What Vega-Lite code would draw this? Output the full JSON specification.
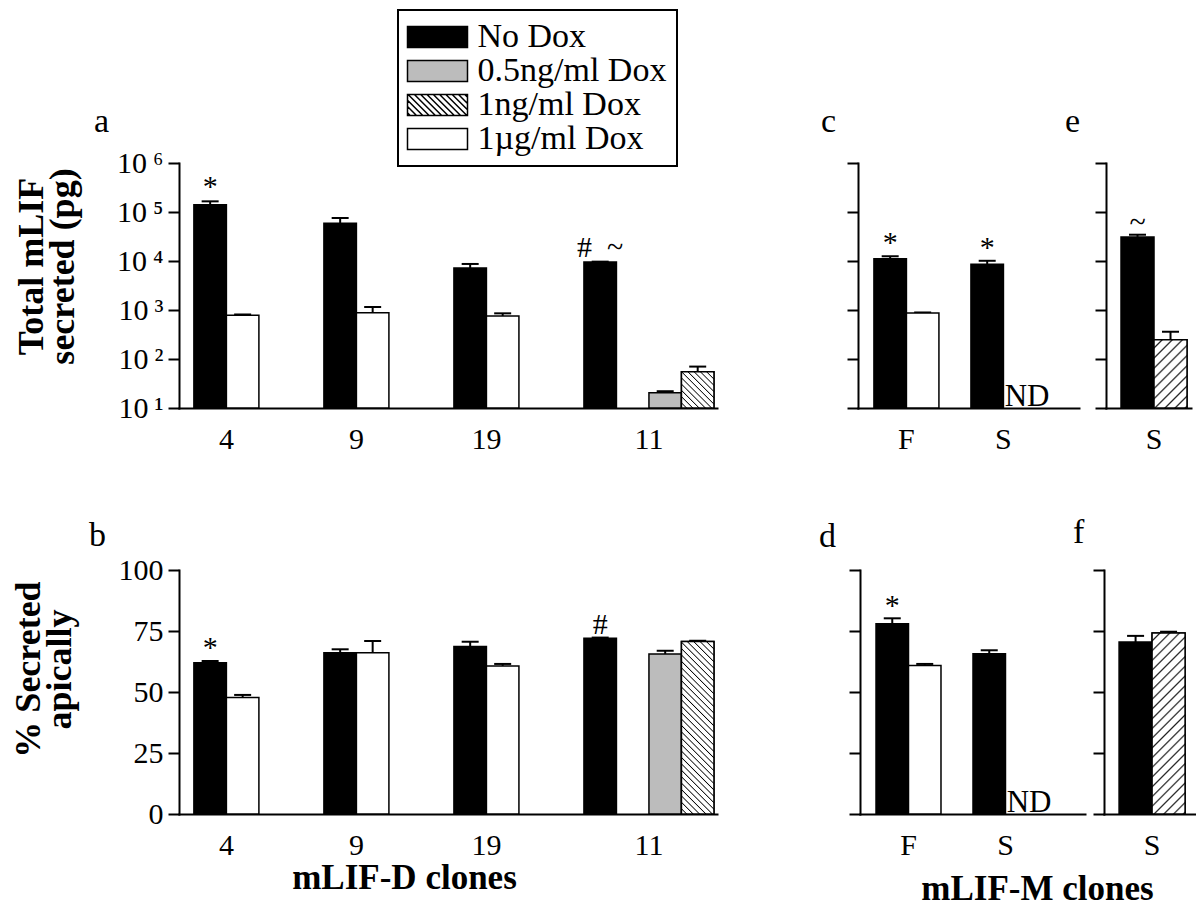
{
 "$schema": "https://vega.github.io/schema/vega-lite/v6.json",
 "padding": {"left": 10, "top": 9, "right": 0, "bottom": 0},
 "background": "white",
 "config": {
  "font": "Liberation Serif",
  "view": {"stroke": null},
  "axis": {"domainColor": "#000", "domainWidth": 2, "domainCap": "square", "tickColor": "#000", "tickWidth": 2, "tickSize": 11, "labelFont": "Liberation Serif", "labelFontSize": 30, "labelColor": "#000", "labelPadding": 5, "titleFont": "Liberation Serif", "titleFontSize": 32, "titleFontWeight": "bold", "titleColor": "#000", "grid": false},
  "axisX": {"ticks": false, "labelAngle": 0, "labelPadding": 16},
  "title": {"font": "Liberation Serif", "fontSize": 34, "fontWeight": "normal", "color": "#000", "anchor": "start", "frame": "group", "baseline": "alphabetic"},
  "legend": {"strokeWidth": 2}
 },
 "resolve": {"scale": {"xOffset": "independent"}},
 "datasets": {
  "a": [
   {"clone": "4", "cond": "No Dox", "mean": 141000, "upper": 165000, "note": "*"},
   {"clone": "4", "cond": "1µg/ml Dox", "mean": 780, "upper": 810},
   {"clone": "9", "cond": "No Dox", "mean": 58700, "upper": 75500},
   {"clone": "9", "cond": "1µg/ml Dox", "mean": 880, "upper": 1150},
   {"clone": "19", "cond": "No Dox", "mean": 7200, "upper": 8700},
   {"clone": "19", "cond": "1µg/ml Dox", "mean": 755, "upper": 855},
   {"clone": "11", "cond": "No Dox", "mean": 9500, "upper": 9700, "note": "# \u00a0~"},
   {"clone": "11", "cond": "0.5ng/ml Dox", "mean": 20.5, "upper": 22},
   {"clone": "11", "cond": "1ng/ml Dox", "mean": 55, "upper": 70}
  ],
  "b": [
   {"clone": "4", "cond": "No Dox", "mean": 62.0, "upper": 62.7, "note": "*"},
   {"clone": "4", "cond": "1µg/ml Dox", "mean": 47.7, "upper": 48.8},
   {"clone": "9", "cond": "No Dox", "mean": 66.1, "upper": 67.5},
   {"clone": "9", "cond": "1µg/ml Dox", "mean": 66.1, "upper": 70.9},
   {"clone": "19", "cond": "No Dox", "mean": 68.6, "upper": 70.6},
   {"clone": "19", "cond": "1µg/ml Dox", "mean": 60.7, "upper": 61.5},
   {"clone": "11", "cond": "No Dox", "mean": 72.0, "upper": 72.3, "note": "#"},
   {"clone": "11", "cond": "0.5ng/ml Dox", "mean": 65.6, "upper": 66.9},
   {"clone": "11", "cond": "1ng/ml Dox", "mean": 70.7, "upper": 71.0}
  ],
  "c": [
   {"clone": "F", "cond": "No Dox", "mean": 11100, "upper": 12500, "note": "*"},
   {"clone": "F", "cond": "1µg/ml Dox", "mean": 870, "upper": 890},
   {"clone": "S", "cond": "No Dox", "mean": 8550, "upper": 10100, "note": "*"},
   {"clone": "S", "cond": "1µg/ml Dox", "nd": "ND", "lod": 10}
  ],
  "d": [
   {"clone": "F", "cond": "No Dox", "mean": 78.0, "upper": 80.2, "note": "*"},
   {"clone": "F", "cond": "1µg/ml Dox", "mean": 60.9, "upper": 61.5},
   {"clone": "S", "cond": "No Dox", "mean": 65.7, "upper": 67.1},
   {"clone": "S", "cond": "1µg/ml Dox", "nd": "ND", "lod": 0}
  ],
  "e": [
   {"clone": "S", "cond": "No Dox", "mean": 31000, "upper": 34400, "note": "~"},
   {"clone": "S", "cond": "1ng/ml Dox", "mean": 248, "upper": 360}
  ],
  "f": [
   {"clone": "S", "cond": "No Dox", "mean": 70.5, "upper": 73.0},
   {"clone": "S", "cond": "1ng/ml Dox", "mean": 74.2, "upper": 74.7}
  ]
 },
 "spacing": 62,
 "vconcat": [
  {
   "spacing": 104,
   "resolve": {"scale": {"xOffset": "independent"}},
   "hconcat": [
    {
     "width": 538, "height": 245,
     "data": {"name": "a"},
     "title": {"text": "a", "dx": -85, "offset": 9},
     "encoding": {
      "x": {"field": "clone", "type": "nominal", "sort": ["4", "9", "19", "11"], "scale": {"paddingInner": 0, "paddingOuter": 0.069, "align": 0.83}, "axis": {"title": null, "labelOffset": {"condition": {"test": "datum.value === '11'", "value": 0}, "value": -32.5}}},
      "xOffset": {"field": "cond", "type": "nominal", "scale": {"domain": ["No Dox", "1µg/ml Dox", "0.5ng/ml Dox", "1ng/ml Dox"], "paddingInner": 0, "paddingOuter": 0}},
      "y": {"field": "mean", "type": "quantitative", "scale": {"type": "log", "domain": [10, 1000000]}, "axis": {"title": ["Total mLIF", "secreted (pg)"], "titleFontSize": 36, "titleLineHeight": 31, "titlePadding": 35, "titleY": 103, "values": [10, 100, 1000, 10000, 100000, 1000000], "labelExpr": "'10\u2009' + ['⁰','¹','²','³','⁴','⁵','⁶'][round(log(datum.value) / LN10)]"}}
     },
     "layer": [
      {"mark": {"type": "rule", "color": "#000", "strokeWidth": 2}, "encoding": {"y2": {"field": "upper"}}},
      {"mark": {"type": "tick", "color": "#000", "thickness": 2, "size": 17, "opacity": 1, "orient": "horizontal"}, "encoding": {"y": {"field": "upper", "type": "quantitative", "scale": {"type": "log", "domain": [10, 1000000]}}}},
      {"mark": {"type": "bar", "stroke": "#000", "strokeWidth": 1.5},
       "encoding": {"y2": {"datum": 10}, "fill": {"field": "cond", "type": "nominal", "scale": {"domain": ["No Dox", "0.5ng/ml Dox", "1ng/ml Dox", "1µg/ml Dox"], "range": ["#000000", "#bcbcbc", "#ffffff", "#ffffff"]},
        "legend": {"orient": "none", "legendX": 219, "legendY": -153, "title": null, "symbolSize": 441, "symbolOffset": 12.5, "labelOffset": 23, "labelFontSize": 34, "labelFont": "Liberation Serif", "labelColor": "#000", "labelLimit": 500, "labelExpr": "datum.label + '\u00a0\u00a0\u00a0'", "symbolStrokeColor": "#000", "symbolStrokeWidth": 1.5, "strokeColor": "#000", "padding": 10, "rowPadding": -3,
         "encode": {"symbols": {"update": {"shape": {"signal": "datum.value === '1ng/ml Dox' ? 'M-2.857,-1H2.857V1H-2.857Z M-2.857,0.743L-2.6,1 M-2.857,0.143L-2,1 M-2.857,-0.457L-1.4,1 M-2.8,-1L-0.8,1 M-2.2,-1L-0.2,1 M-1.6,-1L0.4,1 M-1,-1L1,1 M-0.4,-1L1.6,1 M0.2,-1L2.2,1 M0.8,-1L2.8,1 M1.4,-1L2.857,0.457 M2,-1L2.857,-0.143 M2.6,-1L2.857,-0.743' : 'M-2.857,-1H2.857V1H-2.857Z'"}}}}}}}},
      {"transform": [{"filter": "datum.cond === '1ng/ml Dox'"}],
       "encoding": {"y2": {"datum": 10}},
       "mark": {"type": "bar", "stroke": "#000", "strokeWidth": 1.5, "fill": {"gradient": "linear", "x1": 0, "y1": 1, "x2": 0.942, "y2": -0.052, "stops": [
        {"offset": 0, "color": "#fff"}, {"offset": 0.0591, "color": "#fff"}, {"offset": 0.0745, "color": "#000"},
        {"offset": 0.0909, "color": "#fff"}, {"offset": 0.15, "color": "#fff"}, {"offset": 0.1655, "color": "#000"},
        {"offset": 0.1818, "color": "#fff"}, {"offset": 0.2409, "color": "#fff"}, {"offset": 0.2564, "color": "#000"},
        {"offset": 0.2727, "color": "#fff"}, {"offset": 0.3318, "color": "#fff"}, {"offset": 0.3473, "color": "#000"},
        {"offset": 0.3636, "color": "#fff"}, {"offset": 0.4227, "color": "#fff"}, {"offset": 0.4382, "color": "#000"},
        {"offset": 0.4545, "color": "#fff"}, {"offset": 0.5136, "color": "#fff"}, {"offset": 0.5291, "color": "#000"},
        {"offset": 0.5455, "color": "#fff"}, {"offset": 0.6045, "color": "#fff"}, {"offset": 0.62, "color": "#000"},
        {"offset": 0.6364, "color": "#fff"}, {"offset": 0.6955, "color": "#fff"}, {"offset": 0.7109, "color": "#000"},
        {"offset": 0.7273, "color": "#fff"}, {"offset": 0.7864, "color": "#fff"}, {"offset": 0.8018, "color": "#000"},
        {"offset": 0.8182, "color": "#fff"}, {"offset": 0.8773, "color": "#fff"}, {"offset": 0.8927, "color": "#000"},
        {"offset": 0.9091, "color": "#fff"}, {"offset": 0.9682, "color": "#fff"}, {"offset": 0.9836, "color": "#000"},
        {"offset": 1, "color": "#fff"}]}}},
      {"transform": [{"filter": "datum.note"}], "mark": {"type": "text", "fontSize": 30, "baseline": "alphabetic", "dy": -5, "color": "#000"}, "encoding": {"y": {"field": "upper", "type": "quantitative", "scale": {"type": "log", "domain": [10, 1000000]}}, "text": {"field": "note"}}}
     ]
    },
    {
     "spacing": -14,
     "resolve": {"scale": {"xOffset": "independent"}},
     "hconcat": [
      {
       "width": 221, "height": 245,
       "data": {"name": "c"},
       "title": {"text": "c", "dx": -37, "offset": 23},
       "encoding": {
        "x": {"field": "clone", "type": "nominal", "sort": ["F", "S"], "scale": {"paddingInner": 0.33, "paddingOuter": 0.304, "align": 0.27}, "axis": {"title": null}},
        "xOffset": {"field": "cond", "type": "nominal", "scale": {"domain": ["No Dox", "1µg/ml Dox"], "paddingInner": 0, "paddingOuter": 0}},
        "y": {"field": "mean", "type": "quantitative", "scale": {"type": "log", "domain": [10, 1000000]}, "axis": {"title": null, "labels": false, "values": [10, 100, 1000, 10000, 100000, 1000000]}}
       },
       "layer": [
        {"mark": {"type": "rule", "color": "#000", "strokeWidth": 2}, "encoding": {"y2": {"field": "upper"}}},
        {"mark": {"type": "tick", "color": "#000", "thickness": 2, "size": 17, "opacity": 1, "orient": "horizontal"}, "encoding": {"y": {"field": "upper", "type": "quantitative", "scale": {"type": "log", "domain": [10, 1000000]}}}},
        {"mark": {"type": "bar", "stroke": "#000", "strokeWidth": 1.5}, "encoding": {"y2": {"datum": 10}, "fill": {"field": "cond", "type": "nominal", "scale": {"domain": ["No Dox", "0.5ng/ml Dox", "1ng/ml Dox", "1µg/ml Dox"], "range": ["#000000", "#bcbcbc", "#ffffff", "#ffffff"]}}}},
        {"transform": [{"filter": "datum.note"}], "mark": {"type": "text", "fontSize": 30, "baseline": "alphabetic", "dy": -4, "color": "#000"}, "encoding": {"y": {"field": "upper", "type": "quantitative", "scale": {"type": "log", "domain": [10, 1000000]}}, "text": {"field": "note"}}},
        {"transform": [{"filter": "datum.nd"}], "mark": {"type": "text", "fontSize": 31, "align": "left", "baseline": "alphabetic", "dx": -15, "dy": -2, "color": "#000"}, "encoding": {"y": {"field": "lod", "type": "quantitative", "scale": {"type": "log", "domain": [10, 1000000]}}, "text": {"field": "nd"}}}
       ]
      },
      {
       "width": 85, "height": 245,
       "data": {"name": "e"},
       "title": {"text": "e", "dx": -41, "offset": 23},
       "encoding": {
        "x": {"field": "clone", "type": "nominal", "scale": {"paddingInner": 0, "paddingOuter": 0.144, "align": 0.79}, "axis": {"title": null}},
        "xOffset": {"field": "cond", "type": "nominal", "scale": {"domain": ["No Dox", "1ng/ml Dox"], "paddingInner": 0, "paddingOuter": 0}},
        "y": {"field": "mean", "type": "quantitative", "scale": {"type": "log", "domain": [10, 1000000]}, "axis": {"title": null, "labels": false, "values": [10, 100, 1000, 10000, 100000, 1000000]}}
       },
       "layer": [
        {"mark": {"type": "rule", "color": "#000", "strokeWidth": 2}, "encoding": {"y2": {"field": "upper"}}},
        {"mark": {"type": "tick", "color": "#000", "thickness": 2, "size": 17, "opacity": 1, "orient": "horizontal"}, "encoding": {"y": {"field": "upper", "type": "quantitative", "scale": {"type": "log", "domain": [10, 1000000]}}}},
        {"mark": {"type": "bar", "stroke": "#000", "strokeWidth": 1.5}, "encoding": {"y2": {"datum": 10}, "fill": {"field": "cond", "type": "nominal", "scale": {"domain": ["No Dox", "0.5ng/ml Dox", "1ng/ml Dox", "1µg/ml Dox"], "range": ["#000000", "#bcbcbc", "#ffffff", "#ffffff"]}}}},
        {"transform": [{"filter": "datum.cond === '1ng/ml Dox'"}],
         "encoding": {"y2": {"datum": 10}},
         "mark": {"type": "bar", "stroke": "#000", "strokeWidth": 1.5, "fill": {"gradient": "linear", "x1": 0, "y1": 0, "x2": 0.581, "y2": 1.203, "stops": [
          {"offset": 0, "color": "#fff"}, {"offset": 0.065, "color": "#fff"}, {"offset": 0.082, "color": "#222"},
          {"offset": 0.1, "color": "#fff"}, {"offset": 0.165, "color": "#fff"}, {"offset": 0.182, "color": "#222"},
          {"offset": 0.2, "color": "#fff"}, {"offset": 0.265, "color": "#fff"}, {"offset": 0.282, "color": "#222"},
          {"offset": 0.3, "color": "#fff"}, {"offset": 0.365, "color": "#fff"}, {"offset": 0.382, "color": "#222"},
          {"offset": 0.4, "color": "#fff"}, {"offset": 0.465, "color": "#fff"}, {"offset": 0.482, "color": "#222"},
          {"offset": 0.5, "color": "#fff"}, {"offset": 0.565, "color": "#fff"}, {"offset": 0.582, "color": "#222"},
          {"offset": 0.6, "color": "#fff"}, {"offset": 0.665, "color": "#fff"}, {"offset": 0.682, "color": "#222"},
          {"offset": 0.7, "color": "#fff"}, {"offset": 0.765, "color": "#fff"}, {"offset": 0.782, "color": "#222"},
          {"offset": 0.8, "color": "#fff"}, {"offset": 0.865, "color": "#fff"}, {"offset": 0.882, "color": "#222"},
          {"offset": 0.9, "color": "#fff"}, {"offset": 0.965, "color": "#fff"}, {"offset": 0.982, "color": "#222"},
          {"offset": 1, "color": "#fff"}]}}},
        {"transform": [{"filter": "datum.note"}], "mark": {"type": "text", "fontSize": 30, "baseline": "alphabetic", "dy": -3, "color": "#000"}, "encoding": {"y": {"field": "upper", "type": "quantitative", "scale": {"type": "log", "domain": [10, 1000000]}}, "text": {"field": "note"}}}
       ]
      }
     ]
    }
   ]
  },
  {
   "spacing": 102,
   "resolve": {"scale": {"xOffset": "independent"}},
   "hconcat": [
    {
     "width": 538, "height": 244,
     "data": {"name": "b"},
     "title": {"text": "b", "dx": -90, "offset": 2},
     "encoding": {
      "x": {"field": "clone", "type": "nominal", "sort": ["4", "9", "19", "11"], "scale": {"paddingInner": 0, "paddingOuter": 0.069, "align": 0.83}, "axis": {"title": "mLIF-D clones", "titleFontSize": 35, "titleBaseline": "alphabetic", "titlePadding": 28, "titleX": 225, "labelOffset": {"condition": {"test": "datum.value === '11'", "value": 0}, "value": -32.5}}},
      "xOffset": {"field": "cond", "type": "nominal", "scale": {"domain": ["No Dox", "1µg/ml Dox", "0.5ng/ml Dox", "1ng/ml Dox"], "paddingInner": 0, "paddingOuter": 0}},
      "y": {"field": "mean", "type": "quantitative", "scale": {"domain": [0, 100]}, "axis": {"title": ["% Secreted", "apically"], "titleFontSize": 36, "titleLineHeight": 31, "titlePadding": 40, "titleY": 99, "values": [0, 25, 50, 75, 100]}}
     },
     "layer": [
      {"mark": {"type": "rule", "color": "#000", "strokeWidth": 2}, "encoding": {"y2": {"field": "upper"}}},
      {"mark": {"type": "tick", "color": "#000", "thickness": 2, "size": 17, "opacity": 1, "orient": "horizontal"}, "encoding": {"y": {"field": "upper", "type": "quantitative", "scale": {"domain": [0, 100]}}}},
      {"mark": {"type": "bar", "stroke": "#000", "strokeWidth": 1.5}, "encoding": {"fill": {"field": "cond", "type": "nominal", "scale": {"domain": ["No Dox", "0.5ng/ml Dox", "1ng/ml Dox", "1µg/ml Dox"], "range": ["#000000", "#bcbcbc", "#ffffff", "#ffffff"]}}}},
      {"transform": [{"filter": "datum.cond === '1ng/ml Dox'"}],
       "mark": {"type": "bar", "stroke": "#000", "strokeWidth": 1.5, "fill": {"gradient": "linear", "x1": 0, "y1": 1, "x2": 0.2162, "y2": -0.1477, "stops": [
        {"offset": 0, "color": "#fff"}, {"offset": 0.0203, "color": "#fff"}, {"offset": 0.0256, "color": "#000"},
        {"offset": 0.0313, "color": "#fff"}, {"offset": 0.0516, "color": "#fff"}, {"offset": 0.0569, "color": "#000"},
        {"offset": 0.0625, "color": "#fff"}, {"offset": 0.0828, "color": "#fff"}, {"offset": 0.0881, "color": "#000"},
        {"offset": 0.0938, "color": "#fff"}, {"offset": 0.1141, "color": "#fff"}, {"offset": 0.1194, "color": "#000"},
        {"offset": 0.125, "color": "#fff"}, {"offset": 0.1453, "color": "#fff"}, {"offset": 0.1506, "color": "#000"},
        {"offset": 0.1563, "color": "#fff"}, {"offset": 0.1766, "color": "#fff"}, {"offset": 0.1819, "color": "#000"},
        {"offset": 0.1875, "color": "#fff"}, {"offset": 0.2078, "color": "#fff"}, {"offset": 0.2131, "color": "#000"},
        {"offset": 0.2188, "color": "#fff"}, {"offset": 0.2391, "color": "#fff"}, {"offset": 0.2444, "color": "#000"},
        {"offset": 0.25, "color": "#fff"}, {"offset": 0.2703, "color": "#fff"}, {"offset": 0.2756, "color": "#000"},
        {"offset": 0.2813, "color": "#fff"}, {"offset": 0.3016, "color": "#fff"}, {"offset": 0.3069, "color": "#000"},
        {"offset": 0.3125, "color": "#fff"}, {"offset": 0.3328, "color": "#fff"}, {"offset": 0.3381, "color": "#000"},
        {"offset": 0.3438, "color": "#fff"}, {"offset": 0.3641, "color": "#fff"}, {"offset": 0.3694, "color": "#000"},
        {"offset": 0.375, "color": "#fff"}, {"offset": 0.3953, "color": "#fff"}, {"offset": 0.4006, "color": "#000"},
        {"offset": 0.4063, "color": "#fff"}, {"offset": 0.4266, "color": "#fff"}, {"offset": 0.4319, "color": "#000"},
        {"offset": 0.4375, "color": "#fff"}, {"offset": 0.4578, "color": "#fff"}, {"offset": 0.4631, "color": "#000"},
        {"offset": 0.4688, "color": "#fff"}, {"offset": 0.4891, "color": "#fff"}, {"offset": 0.4944, "color": "#000"},
        {"offset": 0.5, "color": "#fff"}, {"offset": 0.5203, "color": "#fff"}, {"offset": 0.5256, "color": "#000"},
        {"offset": 0.5313, "color": "#fff"}, {"offset": 0.5516, "color": "#fff"}, {"offset": 0.5569, "color": "#000"},
        {"offset": 0.5625, "color": "#fff"}, {"offset": 0.5828, "color": "#fff"}, {"offset": 0.5881, "color": "#000"},
        {"offset": 0.5938, "color": "#fff"}, {"offset": 0.6141, "color": "#fff"}, {"offset": 0.6194, "color": "#000"},
        {"offset": 0.625, "color": "#fff"}, {"offset": 0.6453, "color": "#fff"}, {"offset": 0.6506, "color": "#000"},
        {"offset": 0.6563, "color": "#fff"}, {"offset": 0.6766, "color": "#fff"}, {"offset": 0.6819, "color": "#000"},
        {"offset": 0.6875, "color": "#fff"}, {"offset": 0.7078, "color": "#fff"}, {"offset": 0.7131, "color": "#000"},
        {"offset": 0.7188, "color": "#fff"}, {"offset": 0.7391, "color": "#fff"}, {"offset": 0.7444, "color": "#000"},
        {"offset": 0.75, "color": "#fff"}, {"offset": 0.7703, "color": "#fff"}, {"offset": 0.7756, "color": "#000"},
        {"offset": 0.7813, "color": "#fff"}, {"offset": 0.8016, "color": "#fff"}, {"offset": 0.8069, "color": "#000"},
        {"offset": 0.8125, "color": "#fff"}, {"offset": 0.8328, "color": "#fff"}, {"offset": 0.8381, "color": "#000"},
        {"offset": 0.8438, "color": "#fff"}, {"offset": 0.8641, "color": "#fff"}, {"offset": 0.8694, "color": "#000"},
        {"offset": 0.875, "color": "#fff"}, {"offset": 0.8953, "color": "#fff"}, {"offset": 0.9006, "color": "#000"},
        {"offset": 0.9063, "color": "#fff"}, {"offset": 0.9266, "color": "#fff"}, {"offset": 0.9319, "color": "#000"},
        {"offset": 0.9375, "color": "#fff"}, {"offset": 0.9578, "color": "#fff"}, {"offset": 0.9631, "color": "#000"},
        {"offset": 0.9688, "color": "#fff"}, {"offset": 0.9891, "color": "#fff"}, {"offset": 0.9944, "color": "#000"},
        {"offset": 1, "color": "#fff"}]}}},
      {"transform": [{"filter": "datum.note"}], "mark": {"type": "text", "fontSize": 30, "baseline": "alphabetic", "dy": -4, "color": "#000"}, "encoding": {"y": {"field": "upper", "type": "quantitative", "scale": {"domain": [0, 100]}}, "text": {"field": "note"}}}
     ]
    },
    {
     "spacing": -12,
     "resolve": {"scale": {"xOffset": "independent"}},
     "title": {"text": "mLIF-M clones", "orient": "bottom", "anchor": "middle", "frame": "bounds", "fontWeight": "bold", "fontSize": 35, "baseline": "alphabetic", "offset": 40, "dx": 30},
     "hconcat": [
      {
       "width": 225, "height": 244,
       "data": {"name": "d"},
       "title": {"text": "d", "dx": -41, "offset": 15},
       "encoding": {
        "x": {"field": "clone", "type": "nominal", "sort": ["F", "S"], "scale": {"paddingInner": 0.33, "paddingOuter": 0.325, "align": 0.254}, "axis": {"title": null}},
        "xOffset": {"field": "cond", "type": "nominal", "scale": {"domain": ["No Dox", "1µg/ml Dox"], "paddingInner": 0, "paddingOuter": 0}},
        "y": {"field": "mean", "type": "quantitative", "scale": {"domain": [0, 100]}, "axis": {"title": null, "labels": false, "values": [0, 25, 50, 75, 100]}}
       },
       "layer": [
        {"mark": {"type": "rule", "color": "#000", "strokeWidth": 2}, "encoding": {"y2": {"field": "upper"}}},
        {"mark": {"type": "tick", "color": "#000", "thickness": 2, "size": 17, "opacity": 1, "orient": "horizontal"}, "encoding": {"y": {"field": "upper", "type": "quantitative", "scale": {"domain": [0, 100]}}}},
        {"mark": {"type": "bar", "stroke": "#000", "strokeWidth": 1.5}, "encoding": {"fill": {"field": "cond", "type": "nominal", "scale": {"domain": ["No Dox", "0.5ng/ml Dox", "1ng/ml Dox", "1µg/ml Dox"], "range": ["#000000", "#bcbcbc", "#ffffff", "#ffffff"]}}}},
        {"transform": [{"filter": "datum.note"}], "mark": {"type": "text", "fontSize": 30, "baseline": "alphabetic", "dy": -3, "color": "#000"}, "encoding": {"y": {"field": "upper", "type": "quantitative", "scale": {"domain": [0, 100]}}, "text": {"field": "note"}}},
        {"transform": [{"filter": "datum.nd"}], "mark": {"type": "text", "fontSize": 31, "align": "left", "baseline": "alphabetic", "dx": -15, "dy": -2, "color": "#000"}, "encoding": {"y": {"field": "lod", "type": "quantitative", "scale": {"domain": [0, 100]}}, "text": {"field": "nd"}}}
       ]
      },
      {
       "width": 92, "height": 244,
       "data": {"name": "f"},
       "title": {"text": "f", "dx": -31, "offset": 19},
       "encoding": {
        "x": {"field": "clone", "type": "nominal", "scale": {"paddingInner": 0, "paddingOuter": 0.197, "align": 0.58}, "axis": {"title": null}},
        "xOffset": {"field": "cond", "type": "nominal", "scale": {"domain": ["No Dox", "1ng/ml Dox"], "paddingInner": 0, "paddingOuter": 0}},
        "y": {"field": "mean", "type": "quantitative", "scale": {"domain": [0, 100]}, "axis": {"title": null, "labels": false, "values": [0, 25, 50, 75, 100]}}
       },
       "layer": [
        {"mark": {"type": "rule", "color": "#000", "strokeWidth": 2}, "encoding": {"y2": {"field": "upper"}}},
        {"mark": {"type": "tick", "color": "#000", "thickness": 2, "size": 17, "opacity": 1, "orient": "horizontal"}, "encoding": {"y": {"field": "upper", "type": "quantitative", "scale": {"domain": [0, 100]}}}},
        {"mark": {"type": "bar", "stroke": "#000", "strokeWidth": 1.5}, "encoding": {"fill": {"field": "cond", "type": "nominal", "scale": {"domain": ["No Dox", "0.5ng/ml Dox", "1ng/ml Dox", "1µg/ml Dox"], "range": ["#000000", "#bcbcbc", "#ffffff", "#ffffff"]}}}},
        {"transform": [{"filter": "datum.cond === '1ng/ml Dox'"}],
         "mark": {"type": "bar", "stroke": "#000", "strokeWidth": 1.5, "fill": {"gradient": "linear", "x1": 0, "y1": 0, "x2": 0.2086, "y2": 1.144, "stops": [
          {"offset": 0, "color": "#fff"}, {"offset": 0.0295, "color": "#fff"}, {"offset": 0.0373, "color": "#222"},
          {"offset": 0.0455, "color": "#fff"}, {"offset": 0.075, "color": "#fff"}, {"offset": 0.0827, "color": "#222"},
          {"offset": 0.0909, "color": "#fff"}, {"offset": 0.1205, "color": "#fff"}, {"offset": 0.1282, "color": "#222"},
          {"offset": 0.1364, "color": "#fff"}, {"offset": 0.1659, "color": "#fff"}, {"offset": 0.1737, "color": "#222"},
          {"offset": 0.1818, "color": "#fff"}, {"offset": 0.2114, "color": "#fff"}, {"offset": 0.2191, "color": "#222"},
          {"offset": 0.2273, "color": "#fff"}, {"offset": 0.2568, "color": "#fff"}, {"offset": 0.2646, "color": "#222"},
          {"offset": 0.2727, "color": "#fff"}, {"offset": 0.3023, "color": "#fff"}, {"offset": 0.31, "color": "#222"},
          {"offset": 0.3182, "color": "#fff"}, {"offset": 0.3477, "color": "#fff"}, {"offset": 0.3555, "color": "#222"},
          {"offset": 0.3636, "color": "#fff"}, {"offset": 0.3932, "color": "#fff"}, {"offset": 0.4009, "color": "#222"},
          {"offset": 0.4091, "color": "#fff"}, {"offset": 0.4386, "color": "#fff"}, {"offset": 0.4464, "color": "#222"},
          {"offset": 0.4545, "color": "#fff"}, {"offset": 0.4841, "color": "#fff"}, {"offset": 0.4918, "color": "#222"},
          {"offset": 0.5, "color": "#fff"}, {"offset": 0.5295, "color": "#fff"}, {"offset": 0.5373, "color": "#222"},
          {"offset": 0.5455, "color": "#fff"}, {"offset": 0.575, "color": "#fff"}, {"offset": 0.5827, "color": "#222"},
          {"offset": 0.5909, "color": "#fff"}, {"offset": 0.6205, "color": "#fff"}, {"offset": 0.6282, "color": "#222"},
          {"offset": 0.6364, "color": "#fff"}, {"offset": 0.6659, "color": "#fff"}, {"offset": 0.6737, "color": "#222"},
          {"offset": 0.6818, "color": "#fff"}, {"offset": 0.7114, "color": "#fff"}, {"offset": 0.7191, "color": "#222"},
          {"offset": 0.7273, "color": "#fff"}, {"offset": 0.7568, "color": "#fff"}, {"offset": 0.7646, "color": "#222"},
          {"offset": 0.7727, "color": "#fff"}, {"offset": 0.8023, "color": "#fff"}, {"offset": 0.81, "color": "#222"},
          {"offset": 0.8182, "color": "#fff"}, {"offset": 0.8477, "color": "#fff"}, {"offset": 0.8555, "color": "#222"},
          {"offset": 0.8636, "color": "#fff"}, {"offset": 0.8932, "color": "#fff"}, {"offset": 0.9009, "color": "#222"},
          {"offset": 0.9091, "color": "#fff"}, {"offset": 0.9386, "color": "#fff"}, {"offset": 0.9464, "color": "#222"},
          {"offset": 0.9545, "color": "#fff"}, {"offset": 0.9841, "color": "#fff"}, {"offset": 0.9918, "color": "#222"},
          {"offset": 1, "color": "#fff"}]}}}
       ]
      }
     ]
    }
   ]
  }
 ]
}
